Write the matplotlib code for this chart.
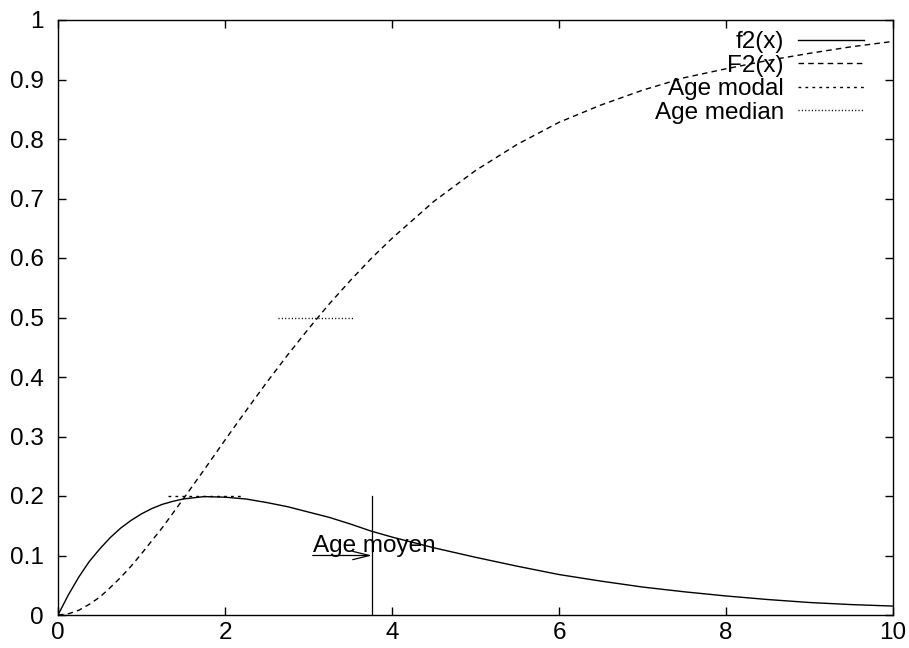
"""Gnuplot-style density / distribution chart: f2(x), F2(x), mode, median, mean."""

import matplotlib
matplotlib.use("Agg")
import matplotlib.pyplot as plt

plt.rcParams["font.family"] = ["Liberation Sans", "DejaVu Sans"]

# values
x_vals = [0, 0.125, 0.25, 0.375, 0.5, 0.625, 0.75, 0.875, 1.0, 1.125, 1.25,
          1.375, 1.5, 1.75, 2.0, 2.25, 2.5, 2.75, 3.0, 3.25, 3.5, 3.75, 4.0,
          4.5, 5.0, 5.5, 6.0, 6.5, 7.0, 7.5, 8.0, 8.5, 9.0, 9.5, 10.0]
f2_vals = [0, 0.034, 0.064, 0.090, 0.111, 0.130, 0.146, 0.159, 0.170, 0.179,
           0.186, 0.191, 0.195, 0.199, 0.198, 0.195, 0.189, 0.182, 0.173,
           0.164, 0.153, 0.141, 0.131, 0.113, 0.097, 0.082, 0.068, 0.057,
           0.047, 0.039, 0.032, 0.026, 0.021, 0.0175, 0.015]
F2_vals = [0, 0.002, 0.008, 0.018, 0.030, 0.046, 0.063, 0.082, 0.103, 0.125,
           0.147, 0.171, 0.195, 0.244, 0.294, 0.343, 0.391, 0.437, 0.481,
           0.523, 0.562, 0.599, 0.633, 0.695, 0.747, 0.791, 0.828, 0.857,
           0.882, 0.903, 0.918, 0.932, 0.944, 0.955, 0.964]

modal_x = [1.32, 2.21]
modal_y = [0.2, 0.2]
median_x = [2.63, 3.54]
median_y = [0.5, 0.5]
mean_x = 3.76
mean_top = 0.2
arrow_start = (3.05, 0.1)
label_pos = (3.05, 0.106)

FS = 17.5

fig = plt.figure(figsize=(9.09, 6.48), dpi=100)
ax = fig.add_axes([58 / 909, 33 / 648, 835 / 909, 595 / 648])

ax.plot(x_vals, f2_vals, color="black", lw=1.0, label="f2(x)")
ax.plot(x_vals, F2_vals, color="black", lw=1.0, ls=(0, (4, 3)), label="F2(x)")
ax.plot(modal_x, modal_y, color="black", lw=1.0, ls=(0, (2, 3)), label="Age modal")
ax.plot(median_x, median_y, color="black", lw=1.0, ls=(0, (0.8, 1.6)), label="Age median")

ax.plot([mean_x, mean_x], [0, mean_top], color="black", lw=0.9)
ax.annotate("", xy=(mean_x, arrow_start[1]), xytext=arrow_start,
            arrowprops=dict(arrowstyle="->,head_length=1.2,head_width=0.3",
                            lw=0.9, color="black", shrinkA=0, shrinkB=0,
                            mutation_scale=10))
ax.text(label_pos[0], label_pos[1], "Age moyen", ha="left", va="baseline", fontsize=FS)

ax.set_xlim(0, 10)
ax.set_ylim(0, 1)
ax.set_xticks([0, 2, 4, 6, 8, 10])
ax.set_xticklabels(["0", "2", "4", "6", "8", "10"])
yt = [i / 10 for i in range(11)]
ax.set_yticks(yt)
ax.set_yticklabels(["0", "0.1", "0.2", "0.3", "0.4", "0.5", "0.6", "0.7", "0.8", "0.9", "1"])
ax.tick_params(direction="in", length=6, width=1, top=True, right=True,
               labelsize=FS)
ax.tick_params(axis="y", pad=10)
ax.tick_params(axis="x", pad=5)
for s in ax.spines.values():
    s.set_linewidth(1)

ax.legend(loc="upper right", bbox_to_anchor=(1 - 29 / 835, 1 - 11 / 595),
          frameon=False, markerfirst=False, fontsize=FS, handlelength=2.7,
          handletextpad=0.6, labelspacing=0.065, borderaxespad=0, borderpad=0)

fig.savefig("out.png", dpi=100)
